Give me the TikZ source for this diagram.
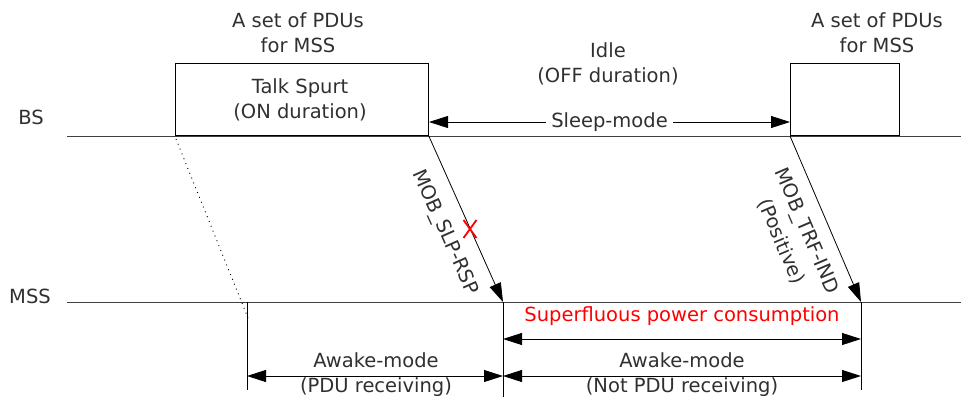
\documentclass[tikz,border=0pt]{standalone}
\usepackage{fontspec}
\setmainfont{DejaVu Sans}
\usetikzlibrary{arrows.meta}
\definecolor{txt}{HTML}{303030}
\definecolor{axis}{HTML}{404040}
\tikzset{
  lbl/.style={text=txt, align=center, inner sep=0pt, font=\fontsize{19.5}{25}\selectfont},
  tip/.style={-{Triangle[length=19pt,width=12pt]}},
  dbl/.style={{Triangle[length=19pt,width=12pt]}-{Triangle[length=19pt,width=12pt]}},
  axisline/.style={draw=axis, line width=1pt},
  thin/.style={draw=black, line width=0.8pt},
  boxn/.style={draw=black, line width=0.8pt, anchor=south west, inner sep=0pt},
}
\begin{document}
\begin{tikzpicture}[x=1pt,y=-1pt]
\useasboundingbox (0,0) rectangle (961,399);
% time axes
\coordinate (bsL) at (67,136);
\coordinate (bsR) at (961,136);
\coordinate (msL) at (67,302);
\coordinate (msR) at (961,302);
\draw[axisline] (bsL) -- (bsR);
\draw[axisline] (msL) -- (msR);
\node[lbl] (bs) at (31,117) {BS};
\node[lbl] (mss) at (30,296) {MSS};
% boxes
\node[boxn, minimum width=253pt, minimum height=72pt] (box1) at (175,136) {};
\node[boxn, minimum width=109pt, minimum height=72pt] (box2) at (790,136) {};
\node[lbl] (talk) at (300,100) {Talk Spurt\\(ON duration)};
\node[lbl] (pdu1) at (298,33) {A set of PDUs\\for MSS};
\node[lbl] (pdu2) at (877,33) {A set of PDUs\\for MSS};
\node[lbl] (idle) at (608,64) {Idle\\(OFF duration)};
% sleep mode
\coordinate (s1) at (429,122);
\coordinate (s2) at (790,122);
\draw[thin, dbl] (s1) -- node[lbl, fill=white, inner xsep=5pt, inner ysep=2pt] (sleep) {Sleep-mode} (s2);
% MSS events
\coordinate (m0) at (247,302);
\coordinate (m1) at (503,302);
\coordinate (m2) at (861,302);
\coordinate (v0) at (247,390);
\coordinate (v1) at (503,397);
\coordinate (v2) at (861,390);
\draw[thin] (m0) -- (v0);
\draw[thin] (m1) -- (v1);
\draw[thin] (m2) -- (v2);
% dotted
\coordinate (d0) at (176,139);
\coordinate (d1) at (248,318);
\draw[black, line width=0.9pt, dash pattern=on 1pt off 4.2pt] (d0) -- (d1);
% messages
\draw[thin, tip] (box1.south east) -- node[lbl, sloped, pos=0.52, below=15pt] (slp) {MOB\_SLP-RSP} (m1);
\draw[thin, tip] (box2.south west) -- node[lbl, sloped, pos=0.52, below=13pt, font=\fontsize{19.5}{28}\selectfont] (trf) {MOB\_TRF-IND\\(Positive)} (m2);
% red cross
\coordinate (x) at (470,229);
\draw[red, line width=1.8pt] (x) ++(-6.5,-9) -- ++(13,18);
\draw[red, line width=1.8pt] (x) ++(6.5,-9) -- ++(-13,18);
% bottom arrows
\coordinate (a0) at (247,376);
\coordinate (a1) at (503,376);
\coordinate (a2) at (861,376);
\coordinate (b1) at (503,339);
\coordinate (b2) at (861,339);
\draw[thin, dbl] (a0) -- (a1);
\draw[thin, dbl] (a1) -- (a2);
\draw[thin, dbl] (b1) -- (b2);
\node[lbl, text=red] (sup) at (682,316) {Superfluous power consumption};
\node[lbl] (aw1) at (376,374.5) {Awake-mode\\(PDU receiving)};
\node[lbl] (aw2) at (682,374.5) {Awake-mode\\(Not PDU receiving)};
\end{tikzpicture}
\end{document}
